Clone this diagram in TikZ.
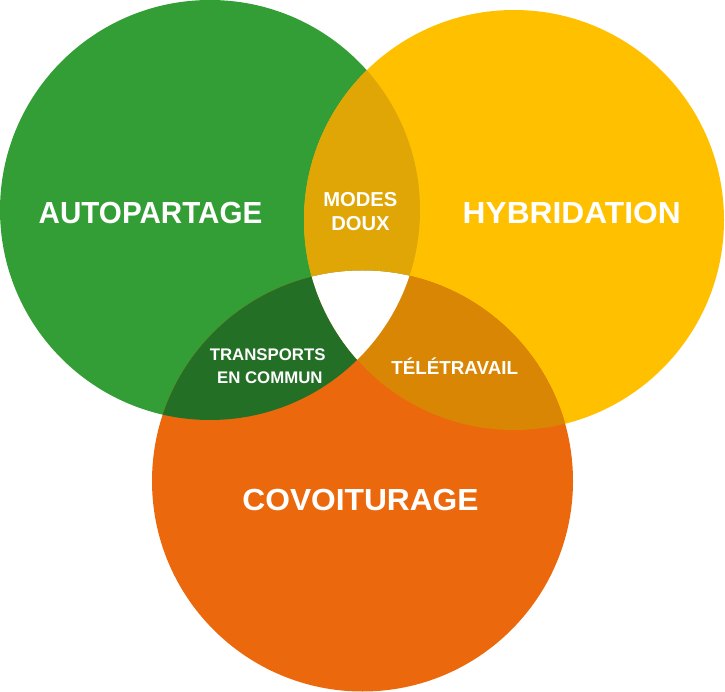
\documentclass[tikz,border=0pt]{standalone}
\usepackage{fontspec}
\setmainfont{Liberation Sans}
\definecolor{cgreen}{RGB}{51,158,53}
\definecolor{cyellow}{RGB}{255,192,0}
\definecolor{corange}{RGB}{235,105,12}
\definecolor{cmodes}{RGB}{223,166,5}
\definecolor{ctrans}{RGB}{35,111,37}
\definecolor{ctele}{RGB}{217,134,4}
\tikzset{
  lbl/.style={text=white, inner sep=0pt, anchor=base},
  big/.style={lbl, font=\bfseries\fontsize{30.5}{30.5}\selectfont},
  sz/.style={lbl, font=\bfseries\fontsize{#1}{#1}\selectfont},
}
\newcommand{\greenc}{(210,210) circle[radius=210pt]}
\newcommand{\yellowc}{(514,220) circle[radius=210pt]}
\newcommand{\orangec}{(362.5,481) circle[radius=210.5pt]}
\begin{document}
\begin{tikzpicture}[x=1pt,y=-1pt]
\useasboundingbox (0,0) rectangle (725,692);
\fill[cgreen] \greenc;
\fill[cyellow] \yellowc;
\fill[corange] \orangec;
\begin{scope}
  \clip \greenc;
  \fill[cmodes] \yellowc;
  \fill[ctrans] \orangec;
\end{scope}
\begin{scope}
  \clip \yellowc;
  \fill[ctele] \orangec;
\end{scope}
\begin{scope}
  \clip \greenc;
  \clip \yellowc;
  \fill[white] \orangec;
\end{scope}
\node[big] (auto) at (150.5,223.3) {\scalebox{0.97}[1]{AUTOPARTAGE}};
\node[big] (hyb) at (571.7,223.3) {\scalebox{1.04}[1]{HYBRIDATION}};
\node[big] (covoit) at (360.5,510) {\scalebox{1.04}[1]{COVOITURAGE}};
\node[sz=20.2] (modes) at (360.3,206.7) {MODES};
\node[sz=20.2] (doux) at (360.5,231) {DOUX};
\node[sz=16.8] (trans) at (267.7,360.7) {TRANSPORTS};
\node[sz=16.8] (commun) at (269.8,383.3) {EN COMMUN};
\node[sz=18.8] (tele) at (454.7,374) {TÉLÉTRAVAIL};
\end{tikzpicture}
\end{document}
